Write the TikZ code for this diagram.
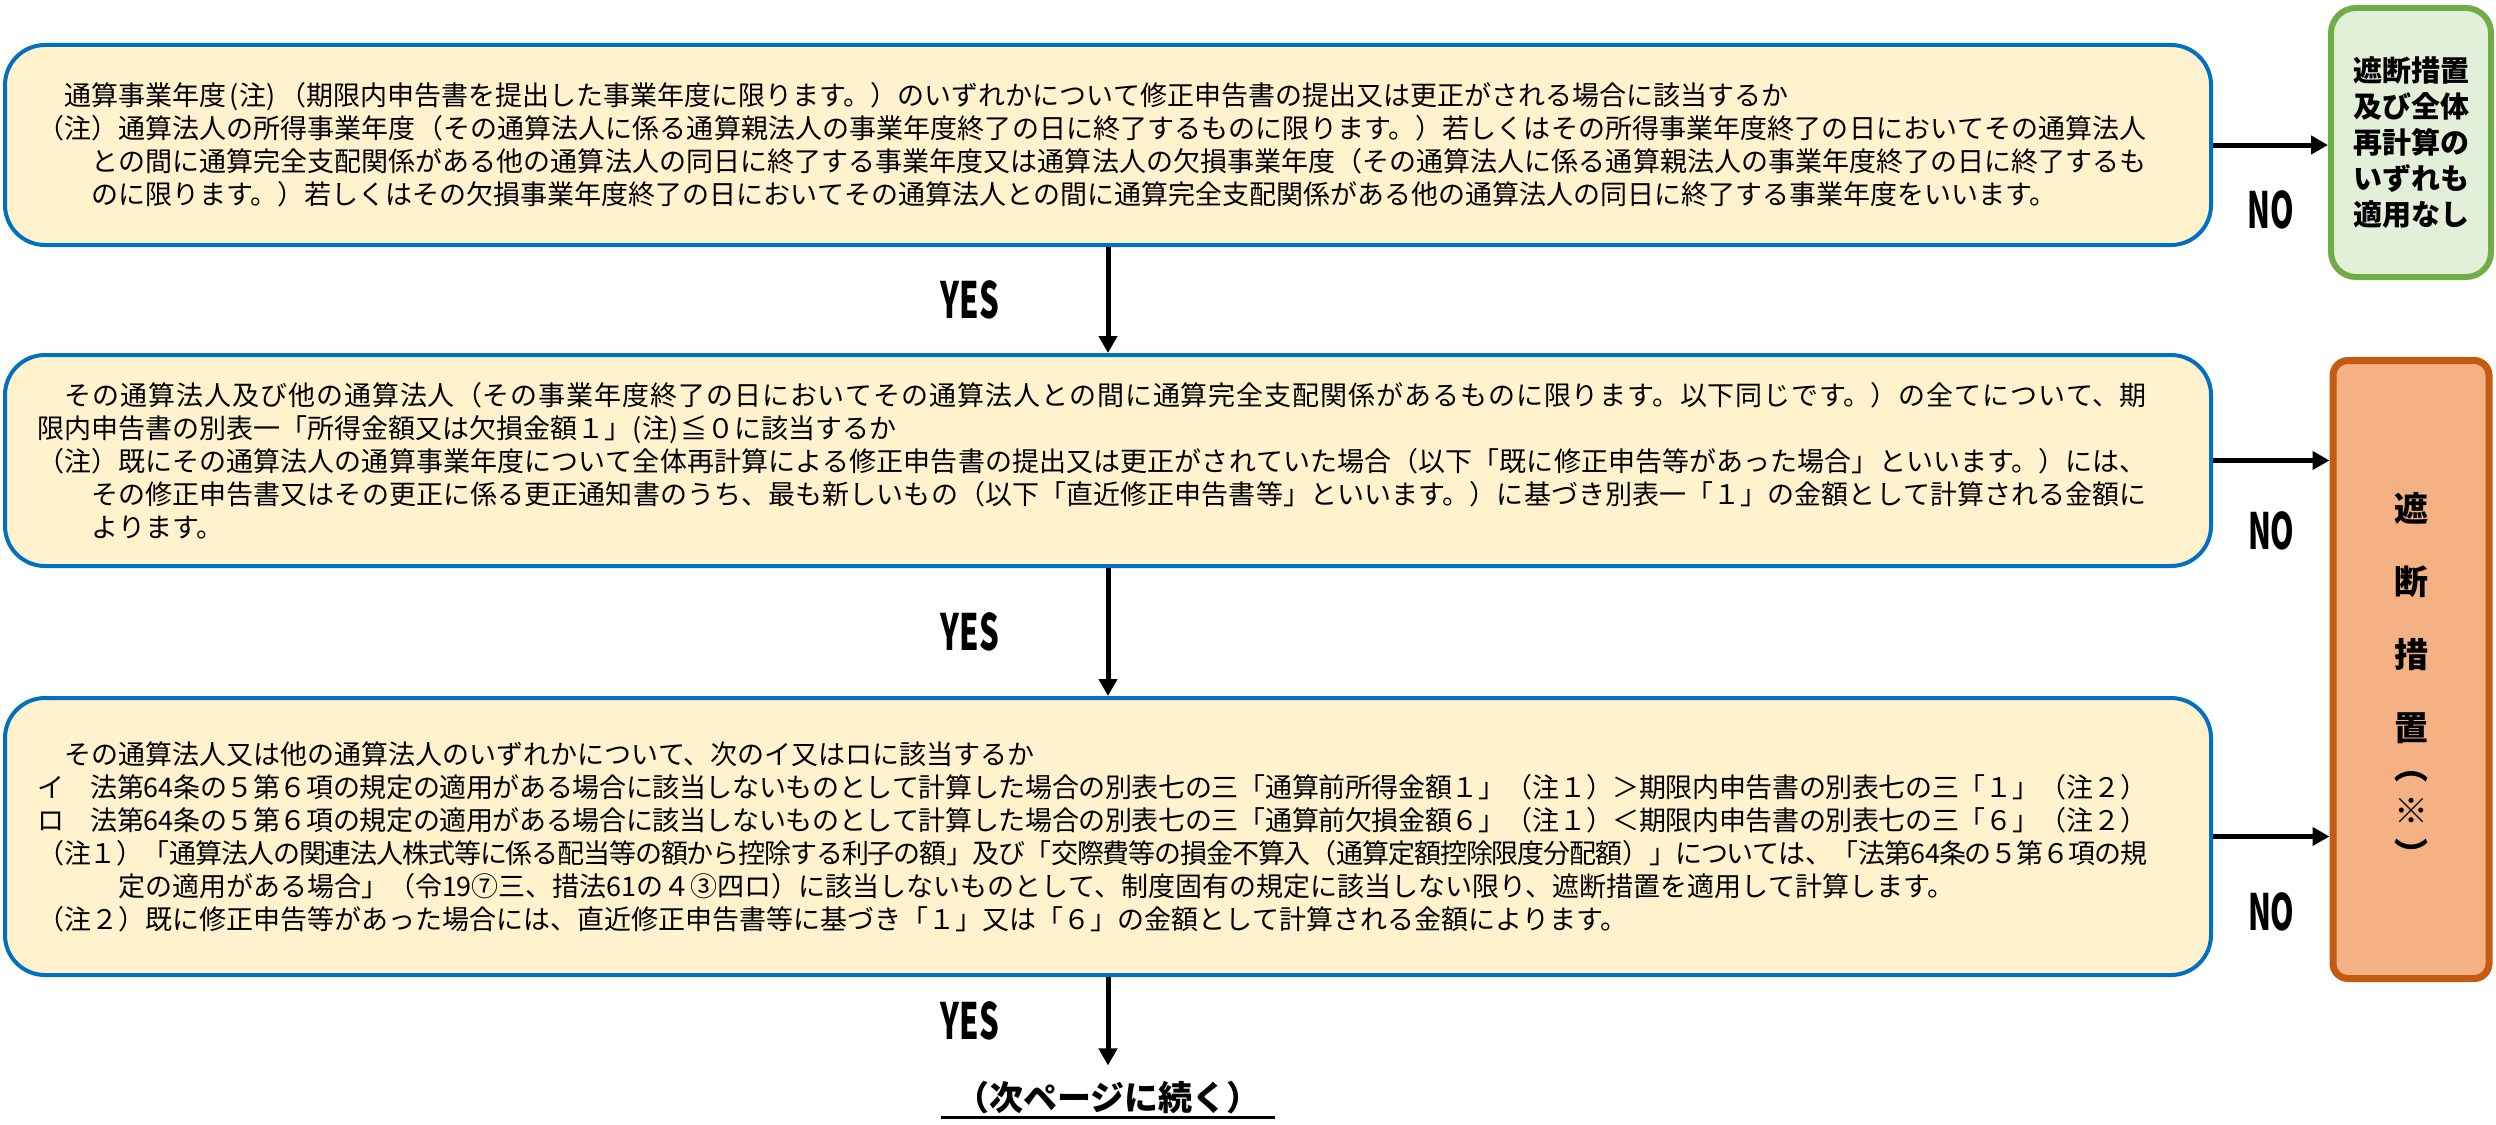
\documentclass[tikz,border=0pt]{standalone}
\usepackage{fontspec}
\setmainfont{Noto Sans CJK JP}
\usetikzlibrary{arrows.meta}
\XeTeXlinebreaklocale "ja"
\XeTeXlinebreakskip=0pt plus 3pt minus 2pt

\definecolor{qfill}{HTML}{FFF2CC}
\definecolor{qline}{HTML}{0070C0}
\definecolor{okfill}{HTML}{E2F0D9}
\definecolor{okline}{HTML}{70AD47}
\definecolor{cutfill}{HTML}{F4B183}
\definecolor{cutline}{HTML}{C55A11}

\begin{document}
\begin{tikzpicture}[x=1pt, y=-1pt]
\tikzset{>={Triangle[length=17pt,width=18pt]}}
\pgfmathsetmacro{\qx}{1108}
\pgfmathsetmacro{\sidex}{2411}
\tikzset{
  question/.style={draw=qline, fill=qfill, line width=4pt, rounded corners=40pt, text width=2142pt, inner xsep=32pt, inner ysep=0pt, align=left, font=\fontsize{27}{33}\selectfont},
  flow/.style={->, line width=5pt},
  yeslbl/.style={font=\bfseries\fontsize{50}{50}\selectfont, inner sep=0pt},
  nolbl/.style={font=\bfseries\fontsize{50}{50}\selectfont, inner sep=0pt}
}
\useasboundingbox (0,0) rectangle (2496,1124);

% questions
\node[question, minimum height=200pt] (q1) at (\qx,145) {\parbox{2110pt}{%
　通算事業年度\hspace{4pt}(注)\hspace{4pt}（期限内申告書を提出した事業年度に限ります。）のいずれかについて修正申告書の提出又は更正がされる場合に該当するか\\
（注）通算法人の所得事業年度（その通算法人に係る通算親法人の事業年度終了の日に終了するものに限ります。）若しくはその所得事業年度終了の日においてその通算法人\linebreak
　　との間に通算完全支配関係がある他の通算法人の同日に終了する事業年度又は通算法人の欠損事業年度（その通算法人に係る通算親法人の事業年度終了の日に終了するも\linebreak
　　のに限ります。）若しくはその欠損事業年度終了の日においてその通算法人との間に通算完全支配関係がある他の通算法人の同日に終了する事業年度をいいます。}};

\node[question, minimum height=211pt] (q2) at (\qx,460.5) {\parbox{2110pt}{%
　その通算法人及び他の通算法人（その事業年度終了の日においてその通算法人との間に通算完全支配関係があるものに限ります。以下同じです。）の全てについて、期\linebreak
限内申告書の別表一「所得金額又は欠損金額１」\hspace{2pt}(注)\hspace{2pt}≦０に該当するか\\
（注）既にその通算法人の通算事業年度について全体再計算による修正申告書の提出又は更正がされていた場合（以下「既に修正申告等があった場合」といいます。）には、\linebreak
　　その修正申告書又はその更正に係る更正通知書のうち、最も新しいもの（以下「直近修正申告書等」といいます。）に基づき別表一「１」の金額として計算される金額に\linebreak
　　よります。}};

\node[question, minimum height=277pt] (q3) at (\qx,836.5) {\parbox{2110pt}{%
　その通算法人又は他の通算法人のいずれかについて、次のイ又はロに該当するか\\
イ　法第64条の５第６項の規定の適用がある場合に該当しないものとして計算した場合の別表七の三「通算前所得金額１」（注１）＞期限内申告書の別表七の三「１」（注２）\\
ロ　法第64条の５第６項の規定の適用がある場合に該当しないものとして計算した場合の別表七の三「通算前欠損金額６」（注１）＜期限内申告書の別表七の三「６」（注２）\\
（注１）「通算法人の関連法人株式等に係る配当等の額から控除する利子の額」及び「交際費等の損金不算入（通算定額控除限度分配額）」については、「法第64条の５第６項の規\linebreak
　　　定の適用がある場合」（令19⑦三、措法61の４③四ロ）に該当しないものとして、制度固有の規定に該当しない限り、遮断措置を適用して計算します。\\
（注２）既に修正申告等があった場合には、直近修正申告書等に基づき「１」又は「６」の金額として計算される金額によります。}};

% outcomes
\node[draw=okline, fill=okfill, line width=6pt, rounded corners=25pt, minimum width=160pt, minimum height=269pt, inner sep=0pt, align=center, font=\bfseries\fontsize{29}{36}\selectfont] (allclear) at (\sidex,142.5) {遮断措置\\及び全体\\再計算の\\いずれも\\適用なし};

\node[draw=cutline, fill=cutfill, line width=7pt, rounded corners=15pt, minimum width=156pt, minimum height=618pt, inner sep=0pt, align=center, font=\bfseries\fontsize{34}{73}\selectfont] (cutoff) at (\sidex,669.5) {};
\node[inner sep=0pt, align=center, font=\bfseries\fontsize{34}{73}\selectfont] (cuttext) at (\sidex,680) {遮\\断\\措\\置\\[-34pt]︵\\[-29pt]※\\[-29pt]︶};

\node[anchor=base, minimum width=334pt, inner xsep=0pt, inner ysep=15pt, font=\bfseries\fontsize{34}{34}\selectfont] (next) at (\qx,1110) {（次ページに続く）};
\draw[line width=3pt] ([yshift=-7pt]next.base west) -- ([yshift=-7pt]next.base east);

% yes arrows
\draw[flow] (q1) -- node[yeslbl, xshift=-138pt] (yes1) {\scalebox{0.62}[1]{YES}} (q2);
\draw[flow] (q2) -- node[yeslbl, xshift=-138pt] (yes2) {\scalebox{0.62}[1]{YES}} (q3);
\draw[flow] (q3.south) -- node[yeslbl, xshift=-138pt] (yes3) {\scalebox{0.62}[1]{YES}} (next.north);

% no arrows
\draw[flow] (q1.east) -- (q1.east -| allclear.west) node[nolbl, midway, yshift=-65pt] (no1) {\scalebox{0.6}[1]{NO}};
\draw[flow] (q2.east) -- (q2.east -| cutoff.west) node[nolbl, midway, yshift=-70pt] (no2) {\scalebox{0.6}[1]{NO}};
\draw[flow] (q3.east) -- (q3.east -| cutoff.west) node[nolbl, midway, yshift=-75pt] (no3) {\scalebox{0.6}[1]{NO}};

\end{tikzpicture}
\end{document}
